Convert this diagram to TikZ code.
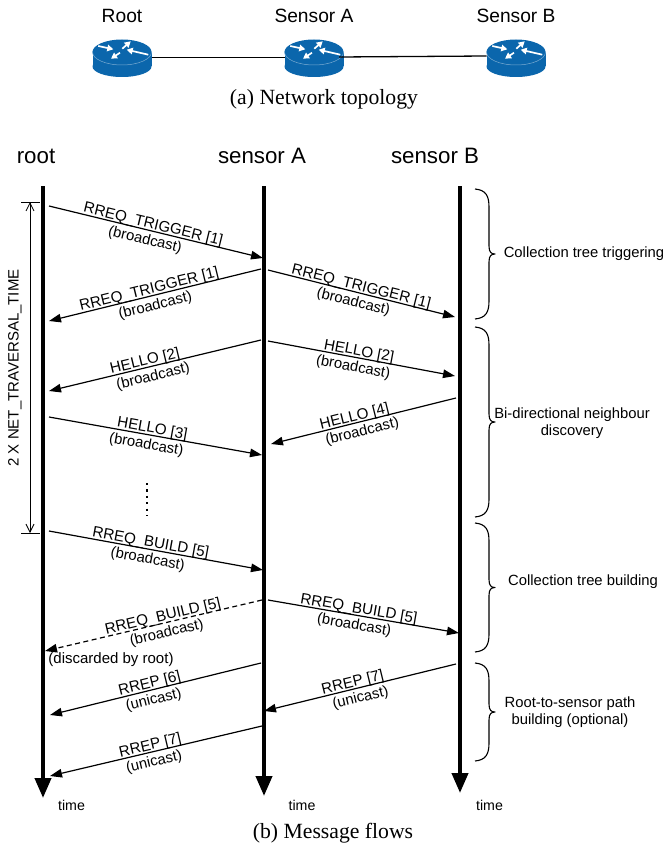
\documentclass[tikz,border=0pt]{standalone}
\usepackage{fontspec}
\setmainfont{Liberation Sans}
\newfontfamily\capfont{Liberation Serif}
\usetikzlibrary{arrows.meta,calc}
\definecolor{routerblue}{HTML}{0B66AC}
\tikzset{
  x=1pt,y=-1pt,
  lifeline/.style={line width=4pt,-{Triangle[length=20pt,width=16pt]}},
  msgline/.style={line width=1.2pt,-{Triangle[length=12pt,width=8.5pt]}},
  dashline/.style={msgline,dash pattern=on 5pt off 3.5pt},
  msgtop/.style={font=\fontsize{15.2}{15}\selectfont,sloped,above=-1.5pt,inner sep=0pt},
  msgsub/.style={font=\fontsize{14.8}{15}\selectfont,sloped,below=2pt,inner sep=1pt},
  headtext/.style={font=\fontsize{22.3}{24}\selectfont},
  topotext/.style={font=\fontsize{19.2}{20}\selectfont},
  captext/.style={font=\capfont\fontsize{21.7}{23}\selectfont},
  smalltext/.style={font=\fontsize{15}{17}\selectfont},
  timetext/.style={font=\fontsize{14.2}{16}\selectfont},
  brlabel/.style={font=\fontsize{14.8}{17.5}\selectfont,align=center},
  bracebar/.style={line width=1.1pt,line join=round},
}
\newcommand{\router}[2]{%
  \begin{scope}[shift={(#1,52)}]
    \fill[routerblue] (-29.5,0) rectangle (29.5,14.5);
    \fill[routerblue] (0,14.5) ellipse[x radius=29.5,y radius=10.5];
    \fill[routerblue] (0,0) ellipse[x radius=29.5,y radius=12.5];
    \clip (-30,0) rectangle (30,14);
    \draw[routerblue!55!white,line width=0.5pt] (0,0) ellipse[x radius=29.5,y radius=13];
  \end{scope}
  \begin{scope}[shift={(#1,52)}]
    \foreach \a/\b/\c/\d in {-23.7/-6/-8.7/-2.7, 0.3/-3.3/8.7/-10.7, 26.3/2.7/4.7/-2.3, -2/0.7/-11/6.7}{
      \draw[white,line width=1.7pt,-{Triangle[length=6pt,width=6.5pt]}] (\a,\b) -- (\c,\d);
    }
  \end{scope}
  \coordinate (#2) at (#1,52);
}
\newcommand{\bracket}[3]{% name, top, bottom
  \coordinate (#1t) at (475,#2);
  \coordinate (#1b) at (475,#3);
  \coordinate (#1m) at (495,{(#2+#3)/2});
  \draw[bracebar] (#1t) .. controls ($(#1t)+(11,1)$) and ($(#1t)+(14,7)$) .. ($(#1t)+(14,18)$)
    -- ($(#1m)+(-6,-8)$) .. controls ($(#1m)+(-6,-2)$) and ($(#1m)+(-4,0)$) .. (#1m)
    .. controls ($(#1m)+(-4,0)$) and ($(#1m)+(-6,2)$) .. ($(#1m)+(-6,8)$)
    -- ($(#1b)+(14,-18)$) .. controls ($(#1b)+(14,-7)$) and ($(#1b)+(11,-1)$) .. (#1b);
}
\newcommand{\msg}[8][msgline]{% style, name, start, end, top, pos, sub, pos
  \coordinate (#2s) at (#3);
  \coordinate (#2e) at (#4);
  \draw[#1] (#2s) -- (#2e) node[pos=#6,msgtop] {#5} node[pos=#8,msgsub] {#7};
}
\begin{document}
\begin{tikzpicture}
\useasboundingbox (0,0) rectangle (665,848);
% topology
\node[topotext] (tr) at (122,16) {Root};
\node[topotext] (ta) at (314,16) {Sensor A};
\node[topotext] (tb) at (516,16) {Sensor B};
\router{122}{ra}
\router{314}{rb}
\router{516}{rc}
\draw[line width=1.3pt] (151.5,57.5) -- (284.5,57.5);
\draw[line width=1.3pt] (339,57) -- (486.5,56);
\node[captext] (capa) at (324,99) {(a) Network topology};
% heads
\node[headtext] (hroot) at (36,156) {root};
\node[headtext] (ha) at (262,156) {sensor A};
\node[headtext] (hb) at (435,156) {sensor B};
% lifelines
\coordinate (l1t) at (43,186); \coordinate (l1b) at (43,798);
\coordinate (l2t) at (264,186); \coordinate (l2b) at (264,796);
\coordinate (l3t) at (460,186); \coordinate (l3b) at (460,793);
\draw[lifeline] (l1t) -- (l1b);
\draw[lifeline] (l2t) -- (l2b);
\draw[lifeline] (l3t) -- (l3b);
\node[timetext] (t1) at (71.5,805) {time};
\node[timetext] (t2) at (302,805) {time};
\node[timetext] (t3) at (489.5,805) {time};
% messages
\msg{m1}{49,206}{263,258}{RREQ\_TRIGGER [1]}{0.48}{(broadcast)}{0.46}
\msg{m2}{261,269}{49,321}{RREQ\_TRIGGER [1]}{0.52}{(broadcast)}{0.51}
\msg{m3}{268,270}{455,317}{RREQ\_TRIGGER [1]}{0.49}{(broadcast)}{0.47}
\msg{m4}{261,340}{49,391}{HELLO [2]}{0.54}{(broadcast)}{0.52}
\msg{m5}{268,341}{455,376}{HELLO [2]}{0.48}{(broadcast)}{0.465}
\msg{m6}{456,398}{271,444}{HELLO [4]}{0.54}{(broadcast)}{0.52}
\msg{m7}{49,417}{262,455}{HELLO [3]}{0.48}{(broadcast)}{0.465}
\msg{m8}{49,531}{263,570}{RREQ\_BUILD [5]}{0.47}{(broadcast)}{0.47}
\msg[dashline]{m9}{262,600}{45,651}{RREQ\_BUILD [5]}{0.45}{(broadcast)}{0.45}
\msg{m10}{268,600}{459,633}{RREQ\_BUILD [5]}{0.47}{(broadcast)}{0.46}
\msg{m11}{261,663}{50,715}{RREP [6]}{0.52}{(unicast)}{0.52}
\msg{m12}{456,664}{264,711}{RREP [7]}{0.53}{(unicast)}{0.51}
\msg{m13}{262,726}{50,776}{RREP [7]}{0.52}{(unicast)}{0.52}
\node[smalltext] (disc) at (111,660) {(discarded by root)};
% time span
\coordinate (d1) at (30,202); \coordinate (d2) at (30,533);
\draw[line width=0.8pt] (21,202) -- (39.5,202);
\draw[line width=0.8pt] (21,533) -- (39.5,533);
\draw[line width=0.8pt,{Straight Barb[length=8pt,width=8pt]}-{Straight Barb[length=8pt,width=8pt]}] (d1) -- (d2);
\node[font=\fontsize{15}{15}\selectfont,rotate=90] (dl) at (15,368) {2 X NET\_TRAVERSAL\_TIME};
% dots
\coordinate (dt) at (147,483); \coordinate (db) at (147,516);
\draw[line width=2pt,dash pattern=on 2.2pt off 4.2pt] (dt) -- (db);
% braces
\bracket{b1}{189}{319}
\bracket{b2}{327}{517}
\bracket{b3}{523}{652}
\bracket{b4}{663}{761}
\node[brlabel] (bl1) at (584,254) {Collection tree triggering};
\node[brlabel] (bl2) at (572,423) {Bi-directional neighbour\\discovery};
\node[brlabel] (bl3) at (583,582) {Collection tree building};
\node[brlabel] (bl4) at (570,712) {Root-to-sensor path\\building (optional)};
\node[captext] (capb) at (333,833) {(b) Message flows};
\end{tikzpicture}
\end{document}
